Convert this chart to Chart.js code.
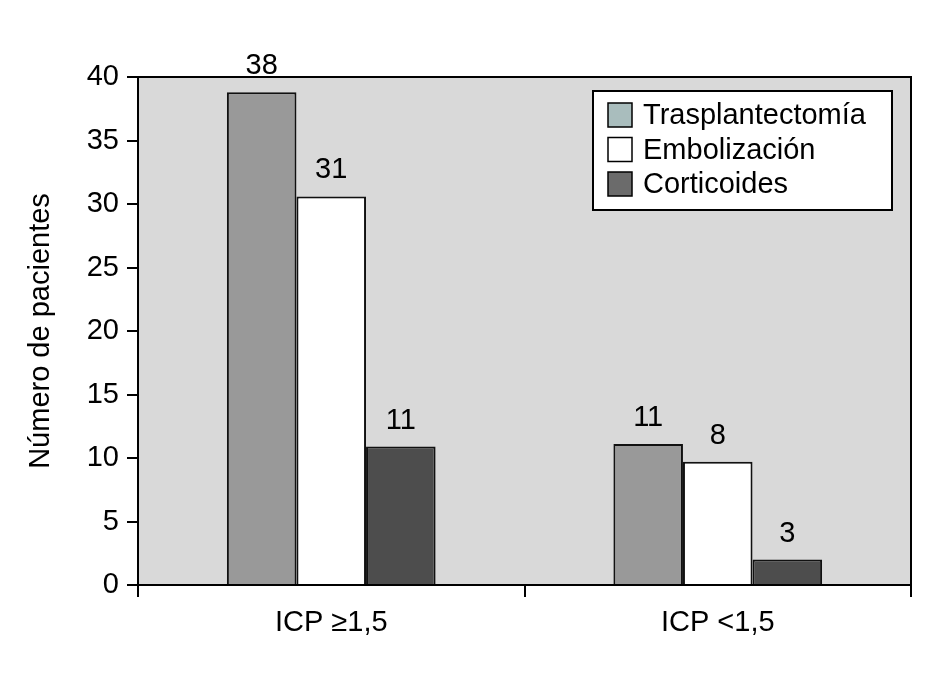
<!DOCTYPE html>
<html>
<head>
<meta charset="utf-8">
<script src="https://cdn.jsdelivr.net/npm/chart.js@4.4.1/dist/chart.umd.min.js"></script>
<style>
  body { margin: 0; background: #fff; }
</style>
</head>
<body>
<canvas id="chart" width="929" height="680"></canvas>
<script>
// datos
const categorias = ['ICP \u22651,5', 'ICP <1,5'];
const trasplantectomia = [38.8, 11.1];
const embolizacion = [30.6, 9.7];
const corticoides = [10.9, 2.0];
// números impresos sobre cada barra
const etiquetasTrasplantectomia = ['38', '11'];
const etiquetasEmbolizacion = ['31', '8'];
const etiquetasCorticoides = ['11', '3'];
const yTicks = [0, 5, 10, 15, 20, 25, 30, 35, 40];

const FONT = '"Liberation Sans", Arial, Helvetica, sans-serif';
const SIZE = 29;
const legendColors = ['#a9bdbd', '#ffffff', '#6b6b6b'];

// fondo gris del área del gráfico
const plotBackground = {
  id: 'plotBackground',
  beforeDraw(chart) {
    const { ctx, chartArea: a } = chart;
    ctx.save();
    ctx.fillStyle = '#d9d9d9';
    ctx.fillRect(a.left, a.top, a.right - a.left, a.bottom - a.top);
    ctx.restore();
  },
  afterDatasetsDraw(chart) {
    const { ctx, chartArea: a } = chart;
    ctx.save();
    ctx.strokeStyle = '#000';
    ctx.lineWidth = 2;
    ctx.strokeRect(a.left, a.top, a.right - a.left, a.bottom - a.top);
    ctx.restore();
  }
};

// números encima de las barras
const barLabels = {
  id: 'barLabels',
  afterDatasetsDraw(chart) {
    const { ctx } = chart;
    ctx.save();
    ctx.font = SIZE + 'px ' + FONT;
    ctx.fillStyle = '#000';
    ctx.textAlign = 'center';
    ctx.textBaseline = 'alphabetic';
    chart.data.datasets.forEach((ds, i) => {
      chart.getDatasetMeta(i).data.forEach((bar, j) => {
        ctx.fillText(ds.valueLabels[j], bar.x, bar.y - 18);
      });
    });
    ctx.restore();
  }
};

// leyenda con recuadro dentro del área
const boxLegend = {
  id: 'boxLegend',
  afterDraw(chart) {
    const { ctx } = chart;
    const x = 593, y = 91, w = 299, h = 119;
    ctx.save();
    ctx.fillStyle = '#fff';
    ctx.fillRect(x, y, w, h);
    ctx.strokeStyle = '#000';
    ctx.lineWidth = 2;
    ctx.strokeRect(x, y, w, h);
    ctx.font = SIZE + 'px ' + FONT;
    ctx.textBaseline = 'middle';
    chart.data.datasets.forEach((ds, i) => {
      const cy = 115 + i * 34.5;
      ctx.fillStyle = legendColors[i];
      ctx.fillRect(608, cy - 12, 24, 24);
      ctx.lineWidth = 1.5;
      ctx.strokeRect(608, cy - 12, 24, 24);
      ctx.fillStyle = '#000';
      ctx.fillText(ds.label, 643, cy + 1);
    });
    ctx.restore();
  }
};

new Chart(document.getElementById('chart'), {
  type: 'bar',
  data: {
    labels: categorias,
    datasets: [
      { label: 'Trasplantectomía', data: trasplantectomia, valueLabels: etiquetasTrasplantectomia,
        backgroundColor: '#999999', borderColor: '#111', borderWidth: 2 },
      { label: 'Embolización', data: embolizacion, valueLabels: etiquetasEmbolizacion,
        backgroundColor: '#ffffff', borderColor: '#111', borderWidth: 2 },
      { label: 'Corticoides', data: corticoides, valueLabels: etiquetasCorticoides,
        backgroundColor: '#4d4d4d', borderColor: '#111', borderWidth: 2 }
    ]
  },
  options: {
    responsive: false,
    animation: false,
    layout: { padding: { top: 77, right: 18, left: 0, bottom: 0 } },
    datasets: { bar: { categoryPercentage: 0.54, barPercentage: 1 } },
    plugins: { legend: { display: false }, tooltip: { enabled: false } },
    scales: {
      x: {
        grid: { offset: true, drawOnChartArea: false, tickLength: 12, color: '#000', lineWidth: 2 },
        border: { color: '#000', width: 2 },
        ticks: { color: '#000', font: { family: FONT, size: SIZE }, padding: 9 },
        afterFit(scale) { scale.height = 95; }
      },
      y: {
        min: 0,
        max: 40,
        afterBuildTicks(scale) { scale.ticks = yTicks.map(v => ({ value: v })); },
        grid: { drawOnChartArea: false, tickLength: 11, color: '#000', lineWidth: 2 },
        border: { color: '#000', width: 2 },
        ticks: { color: '#000', font: { family: FONT, size: SIZE }, padding: 8 },
        title: { display: true, text: 'Número de pacientes', color: '#000',
                 font: { family: FONT, size: SIZE }, padding: { top: 24, bottom: 0 } },
        afterFit(scale) { scale.width = 138; }
      }
    }
  },
  plugins: [plotBackground, barLabels, boxLegend]
});
</script>
</body>
</html>
